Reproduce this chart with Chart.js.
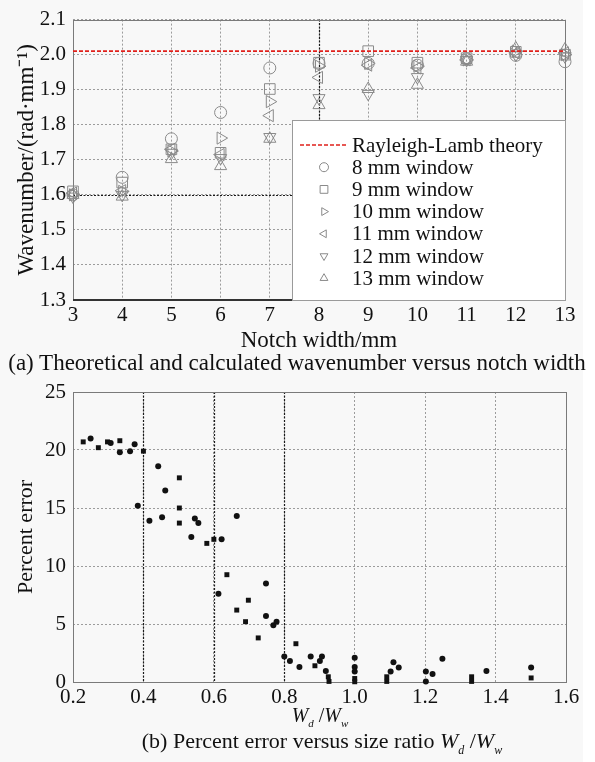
<!DOCTYPE html>
<html>
<head>
<meta charset="utf-8">
<script src="https://cdn.jsdelivr.net/npm/chart.js@4.4.1/dist/chart.umd.min.js"></script>
<style>
  body { margin: 0; background: #f8f8f8; }
  #page { position: relative; width: 595px; height: 762px; background: #f8f8f8; overflow: hidden; }
  #strip { position: absolute; left: 583px; top: 0; width: 12px; height: 762px; background: #fff; }
  canvas { position: absolute; left: 0; }
  .txt { position: absolute; font-family: "Liberation Serif", "Times New Roman", serif; color: #111; white-space: nowrap; transform: translate(-50%, -50%); }
</style>
</head>
<body>
<div id="page">
  <div id="strip"></div>
  <canvas id="wave" width="595" height="352" style="top:0"></canvas>
  <canvas id="err" width="595" height="362" style="top:370px"></canvas>
  <div class="txt" style="left:297px; top:363px; font-size:23px">(a) Theoretical and calculated wavenumber versus notch width</div>
  <div class="txt" style="left:320px; top:716px; font-size:20px"><i>W</i><sub style="font-size:11px"><i>d</i></sub> /<i>W</i><sub style="font-size:11px"><i>w</i></sub></div>
  <div class="txt" style="left:322px; top:743px; font-size:22px">(b) Percent error versus size ratio <i>W</i><sub style="font-size:12px"><i>d</i></sub> /<i>W</i><sub style="font-size:12px"><i>w</i></sub></div>
</div>
<script>
// ---- data: chart (a) ----
const notchWidth = [3, 4, 5, 6, 7, 8, 9, 10, 11, 12, 13];
const theory = 2.01;
const win8  = [1.600, 1.650, 1.760, 1.835, 1.962, 1.975, 1.975, 1.970, 1.988, 1.998, 1.980];
const win9  = [1.610, 1.635, 1.730, 1.720, 1.902, 1.977, 2.010, 1.977, 1.990, 2.008, 2.000];
const win10 = [1.600, 1.610, 1.725, 1.762, 1.866, 1.967, 1.975, 1.967, 1.985, 2.010, 2.000];
const win11 = [1.605, 1.612, 1.730, 1.715, 1.826, 1.935, 1.970, 1.962, 1.985, 2.005, 2.005];
const win12 = [1.595, 1.600, 1.720, 1.705, 1.765, 1.876, 1.888, 1.936, 1.985, 2.000, 1.995];
const win13 = [1.600, 1.595, 1.702, 1.682, 1.760, 1.856, 1.902, 1.914, 1.980, 2.018, 2.015];
const waveXTicks = [3, 4, 5, 6, 7, 8, 9, 10, 11, 12, 13];
const waveYTicks = [1.3, 1.4, 1.5, 1.6, 1.7, 1.8, 1.9, 2.0, 2.1];
const waveDarkX = [8];
const waveDarkY = [1.6];

// ---- data: chart (b) ----
const circleRatio = [0.250, 0.307, 0.333, 0.362, 0.375, 0.384, 0.417, 0.442, 0.453, 0.462, 0.536, 0.546, 0.556,
  0.613, 0.622, 0.665, 0.748, 0.748, 0.769, 0.778, 0.800, 0.816, 0.843, 0.875, 0.901, 0.907, 0.918,
  1.000, 1.000, 1.000, 1.102, 1.110, 1.125, 1.202, 1.202, 1.221, 1.249, 1.374, 1.501];
const circleError = [21.0, 20.6, 19.8, 19.9, 20.5, 15.2, 13.9, 18.6, 14.2, 16.5, 12.5, 14.1, 13.7,
  7.6, 12.3, 14.3, 8.5, 5.7, 4.9, 5.2, 2.2, 1.8, 1.3, 2.2, 1.8, 2.2, 0.95,
  2.1, 1.3, 0.9, 0.9, 1.7, 1.25, 0.9, 0.05, 0.7, 2.0, 0.95, 1.25];
const squareRatio = [0.229, 0.272, 0.298, 0.333, 0.400, 0.502, 0.502, 0.502, 0.580, 0.600, 0.637, 0.665, 0.690,
  0.698, 0.726, 0.833, 0.887, 0.925, 0.927, 1.000, 1.000, 1.091, 1.091, 1.332, 1.332, 1.501];
const squareError = [20.7, 20.2, 20.7, 20.8, 19.9, 17.6, 15.0, 13.7, 11.95, 12.3, 9.25, 6.2, 5.2,
  7.05, 3.8, 3.3, 1.4, 0.45, 0.05, 0.3, 0.02, 0.45, 0.05, 0.45, 0.05, 0.35];
const ratioTicks = [0.2, 0.4, 0.6, 0.8, 1.0, 1.2, 1.4, 1.6];
const errorTicks = [0, 5, 10, 15, 20, 25];
const errDarkX = [0.4, 0.6, 0.8];

const serif = '"Liberation Serif", "Times New Roman", serif';
const markerGray = '#8a8a8a';

function pts(xs, ys) { return xs.map((x, i) => ({ x: x, y: ys[i] })); }

// frame + dark reference lines + legend
const framePlugin = {
  id: 'frame',
  beforeDatasetsDraw(chart, args, opts) {
    const { ctx, chartArea: a, scales } = chart;
    ctx.save();
    ctx.strokeStyle = '#1a1a1a';
    ctx.lineWidth = 1.2;
    ctx.setLineDash([2, 1.5]);
    (opts.darkX || []).forEach(v => {
      const px = Math.round(scales.x.getPixelForValue(v)) + 0.5;
      ctx.beginPath(); ctx.moveTo(px, a.top); ctx.lineTo(px, a.bottom); ctx.stroke();
    });
    (opts.darkY || []).forEach(v => {
      const py = Math.round(scales.y.getPixelForValue(v)) + 0.5;
      ctx.beginPath(); ctx.moveTo(a.left, py); ctx.lineTo(a.right, py); ctx.stroke();
    });
    ctx.setLineDash([]);
    ctx.strokeStyle = '#7a7a7a';
    ctx.lineWidth = 1;
    ctx.strokeRect(Math.round(a.left) + 0.5, Math.round(a.top) + 0.5, Math.round(a.width), Math.round(a.height));
    if (opts.thickBottom) {
      ctx.strokeStyle = '#333';
      ctx.lineWidth = 2;
      ctx.beginPath(); ctx.moveTo(a.left, a.bottom); ctx.lineTo(a.right, a.bottom); ctx.stroke();
    }
    ctx.restore();
  },
  afterDraw(chart, args, opts) {
    if (!opts.legend) return;
    const { ctx, chartArea: a } = chart;
    const w = 273, h = 180;
    const bx = a.right - w, by = a.bottom - h;
    ctx.save();
    ctx.fillStyle = '#fff';
    ctx.fillRect(bx, by, w, h);
    ctx.strokeStyle = '#9a9a9a';
    ctx.lineWidth = 1;
    ctx.strokeRect(bx + 0.5, by + 0.5, w, h);
    ctx.font = '21px ' + serif;
    ctx.textBaseline = 'middle';
    chart.data.datasets.forEach((ds, i) => {
      const y = by + 25 + i * 22.2;
      if (ds.showLine) {
        ctx.strokeStyle = ds.borderColor;
        ctx.lineWidth = 1.5;
        ctx.setLineDash(ds.borderDash);
        ctx.beginPath(); ctx.moveTo(bx + 8, y); ctx.lineTo(bx + 55, y); ctx.stroke();
        ctx.setLineDash([]);
      } else {
        ctx.fillStyle = 'rgba(0,0,0,0)';
        ctx.strokeStyle = markerGray;
        ctx.lineWidth = 1;
        Chart.helpers.drawPoint(ctx, {
          pointStyle: ds.pointStyle, rotation: ds.pointRotation || 0,
          radius: ds.pointStyle === 'rect' ? 5.5 : 4.5, borderWidth: 1
        }, bx + 32, y);
      }
      ctx.fillStyle = '#111';
      ctx.fillText(ds.label, bx + 60, y + 1);
    });
    ctx.restore();
  }
};

function marker(label, values, style, rot, r) {
  return {
    label: label, data: pts(notchWidth, values), showLine: false, clip: false,
    pointStyle: style, pointRotation: rot, pointRadius: r, pointHoverRadius: r,
    borderColor: markerGray, backgroundColor: 'rgba(0,0,0,0)', pointBorderWidth: 1
  };
}

const gridStyle = { color: '#9c9c9c', lineWidth: 1, drawTicks: false };
const tickFont = { family: serif, size: 21 };

new Chart(document.getElementById('wave'), {
  type: 'scatter',
  data: {
    datasets: [
      { label: 'Rayleigh-Lamb theory', data: [{ x: 3, y: theory }, { x: 13, y: theory }], showLine: true,
        borderColor: '#e0201b', borderWidth: 1.6, borderDash: [4, 2], pointRadius: 0 },
      marker('8 mm window', win8, 'circle', 0, 6),
      marker('9 mm window', win9, 'rect', 0, 7.5),
      marker('10 mm window', win10, 'triangle', 90, 7),
      marker('11 mm window', win11, 'triangle', -90, 7),
      marker('12 mm window', win12, 'triangle', 180, 7),
      marker('13 mm window', win13, 'triangle', 0, 7)
    ]
  },
  options: {
    responsive: false, animation: false,
    layout: { padding: { top: 13, right: 30, left: 0, bottom: 0 } },
    plugins: {
      legend: { display: false }, tooltip: { enabled: false },
      frame: { darkX: waveDarkX, darkY: waveDarkY, thickBottom: true, legend: true }
    },
    scales: {
      x: {
        type: 'linear', min: 3, max: 13,
        afterBuildTicks: s => { s.ticks = waveXTicks.map(v => ({ value: v })); },
        afterFit: s => { s.height = 52; },
        grid: gridStyle, border: { display: false, dash: [2, 2] },
        ticks: { font: tickFont, color: '#111', padding: 3, maxRotation: 0 },
        title: { display: true, text: 'Notch width/mm', font: { family: serif, size: 23, lineHeight: 1 }, color: '#111', padding: { top: 0, bottom: 0 } }
      },
      y: {
        type: 'linear', min: 1.3, max: 2.1,
        afterBuildTicks: s => { s.ticks = waveYTicks.map(v => ({ value: v })); },
        afterFit: s => { s.width = 73; },
        grid: gridStyle, border: { display: false, dash: [2, 2] },
        ticks: { font: tickFont, color: '#111', padding: 7, callback: v => v.toFixed(1) },
        title: { display: true, text: 'Wavenumber/(rad·mm⁻¹)', font: { family: serif, size: 23, lineHeight: 1 }, color: '#111', padding: { top: 15, bottom: 0 } }
      }
    }
  },
  plugins: [framePlugin]
});

new Chart(document.getElementById('err'), {
  type: 'scatter',
  data: {
    datasets: [
      { label: 'circle', data: pts(circleRatio, circleError), pointStyle: 'circle', pointRadius: 3, clip: false,
        backgroundColor: '#111', borderColor: '#111', pointBorderWidth: 0 },
      { label: 'square', data: pts(squareRatio, squareError), pointStyle: 'rect', pointRadius: 3.5, clip: false,
        backgroundColor: '#111', borderColor: '#111', pointBorderWidth: 0 }
    ]
  },
  options: {
    responsive: false, animation: false,
    layout: { padding: { top: 22, right: 29, left: 0, bottom: 0 } },
    plugins: {
      legend: { display: false }, tooltip: { enabled: false },
      frame: { darkX: errDarkX, darkY: [], thickBottom: false, legend: false }
    },
    scales: {
      x: {
        type: 'linear', min: 0.2, max: 1.6,
        afterBuildTicks: s => { s.ticks = ratioTicks.map(v => ({ value: v })); },
        afterFit: s => { s.height = 50; },
        grid: gridStyle, border: { display: false, dash: [2, 2] },
        ticks: { font: tickFont, color: '#111', padding: 3, maxRotation: 0, callback: v => v.toFixed(1) }
      },
      y: {
        type: 'linear', min: 0, max: 25,
        afterBuildTicks: s => { s.ticks = errorTicks.map(v => ({ value: v })); },
        afterFit: s => { s.width = 73; },
        grid: gridStyle, border: { display: false, dash: [2, 2] },
        ticks: { font: tickFont, color: '#111', padding: 7 },
        title: { display: true, text: 'Percent error', font: { family: serif, size: 22, lineHeight: 1 }, color: '#111', padding: { top: 15, bottom: 0 } }
      }
    }
  },
  plugins: [framePlugin]
});
</script>
</body>
</html>
